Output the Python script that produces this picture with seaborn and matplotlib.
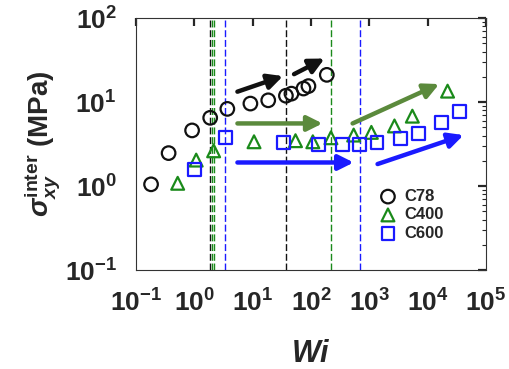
import numpy as np
import pandas as pd
import matplotlib
matplotlib.use('Agg')
import matplotlib.pyplot as plt
import seaborn as sns

# Data (Wi, sigma_xy^inter in MPa)
c78_wi = [0.18, 0.36, 0.91, 1.86, 3.66, 9.1, 18.4, 37, 46, 74, 90, 186]
c78_sig = [1.05, 2.47, 4.6, 6.5, 8.3, 9.6, 10.5, 11.9, 12.6, 14.5, 15.5, 21.1]

c400_wi = [0.515, 1.07, 2.13, 10.5, 54, 107, 219, 537, 1080, 2690, 5450, 21900]
c400_sig = [1.08, 2.04, 2.63, 3.37, 3.47, 3.37, 3.76, 4.05, 4.36, 5.2, 6.8, 13.5]

c600_wi = [1.01, 3.38, 34, 135, 347, 680, 1350, 3400, 6900, 17300, 34600]
c600_sig = [1.58, 3.8, 3.27, 3.16, 3.1, 3.16, 3.27, 3.7, 4.24, 5.7, 7.7]

# critical Wi markers (vertical dashed lines)
vlines_black = [1.82, 37]
vlines_green = [2.0, 2.13, 218]
vlines_blue = [3.3, 680]

# arrows: (start_wi, start_sig, end_wi, end_sig)
arrows_black = [(5.45, 13.3, 33, 20.4), (51, 21.5, 170, 33)]
arrows_green = [(5.45, 5.57, 157, 5.57), (515, 5.57, 15700, 16.4)]
arrows_blue = [(5.45, 1.91, 537, 1.91), (1380, 1.83, 41200, 4.05)]

sns.set_style('white')
plt.rcParams['font.family'] = ['Liberation Sans', 'DejaVu Sans']
plt.rcParams['font.weight'] = 'bold'
plt.rcParams['axes.labelweight'] = 'bold'
plt.rcParams['axes.unicode_minus'] = False
plt.rcParams['mathtext.fontset'] = 'custom'
plt.rcParams['mathtext.rm'] = 'Liberation Sans:bold'
plt.rcParams['mathtext.it'] = 'Liberation Sans:bold:italic'
plt.rcParams['mathtext.bf'] = 'Liberation Sans:bold'
plt.rcParams['mathtext.default'] = 'rm'

df = pd.concat([
    pd.DataFrame({'Wi': c78_wi, 'sig': c78_sig, 'sample': 'C78'}),
    pd.DataFrame({'Wi': c400_wi, 'sig': c400_sig, 'sample': 'C400'}),
    pd.DataFrame({'Wi': c600_wi, 'sig': c600_sig, 'sample': 'C600'}),
])

fig = plt.figure(figsize=(5.1, 3.69), dpi=100)
ax = fig.add_axes([0.267, 0.268, 0.686, 0.683])

BLACK = '#111111'
GREEN = '#1a8a1a'
BLUE = '#1a1aff'

for x in vlines_black:
    ax.axvline(x, color=BLACK, ls=(0, (5, 2)), lw=1.0)
for x in vlines_green:
    ax.axvline(x, color=GREEN, ls=(0, (5, 2)), lw=1.0)
for x in vlines_blue:
    ax.axvline(x, color=BLUE, ls=(0, (5, 2)), lw=1.0)

styles = {'C78': ('o', BLACK, 95), 'C400': ('^', GREEN, 85), 'C600': ('s', BLUE, 85)}
for name, (mk, col, s) in styles.items():
    sub = df[df['sample'] == name]
    sns.scatterplot(data=sub, x='Wi', y='sig', marker=mk, s=s, ax=ax,
                    facecolor='none', edgecolor=col, linewidth=1.6,
                    label=name, zorder=3)

arrow_cols = [(arrows_black, BLACK), (arrows_green, '#5b8a3c'), (arrows_blue, BLUE)]
for arrs, col in arrow_cols:
    for x0, y0, x1, y1 in arrs:
        ax.annotate('', xy=(x1, y1), xytext=(x0, y0),
                    arrowprops=dict(arrowstyle='-|>,head_length=0.9,head_width=0.45',
                                    color=col, lw=3.2, shrinkA=0, shrinkB=0),
                    zorder=4)

ax.set_xscale('log')
ax.set_yscale('log')
ax.set_xlim(0.1, 1e5)
ax.set_ylim(0.1, 100)
ax.set_xticks([10.0**k for k in range(-1, 6)])
ax.set_yticks([10.0**k for k in range(-1, 3)])

ax.tick_params(which='both', direction='in', top=True, right=True)
ax.tick_params(which='major', length=6, width=1.6, labelsize=19)
ax.tick_params(which='minor', length=3, width=0.8)
ax.tick_params(axis='x', which='major', pad=14)
ax.tick_params(axis='y', which='major', pad=14)
for sp in ax.spines.values():
    sp.set_color('#333333')
    sp.set_linewidth(0.8)

ax.set_xlabel(r'$\mathit{Wi}$', fontsize=22, labelpad=16)
ax.set_ylabel(r'$\mathit{\sigma}_{\mathit{xy}}^{\mathrm{inter}}$ (MPa)', fontsize=20, labelpad=2)

leg = ax.legend(loc='upper left', bbox_to_anchor=(0.672, 0.355), frameon=False,
                fontsize=12, handletextpad=0.5, labelspacing=0.2,
                handlelength=1.0, borderpad=0)
for t in leg.get_texts():
    t.set_fontweight('bold')

fig.savefig('out.png', dpi=100)
